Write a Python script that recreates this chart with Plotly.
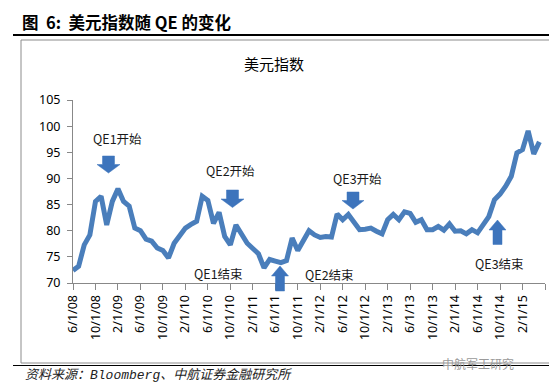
import plotly.graph_objects as go

# ---- data (monthly, 6/1/08 .. 5/1/15) ----
dxy_values = [72.4, 73.2, 77.3, 79.2, 85.6, 86.6, 81.1, 85.6, 88.0, 85.6,
              84.7, 80.5, 80.0, 78.4, 78.0, 76.7, 76.2, 74.8, 77.6, 79.2,
              80.5, 81.2, 81.8, 86.6, 85.8, 81.4, 83.5, 78.9, 77.3, 81.1,
              79.2, 77.6, 76.6, 75.6, 72.9, 74.5, 74.2, 73.9, 74.3, 78.6,
              76.2, 78.3, 80.0, 79.2, 78.7, 78.9, 78.8, 83.2, 82.1, 83.1,
              81.5, 80.2, 80.3, 80.5, 79.9, 79.4, 82.1, 83.1, 82.1, 83.6,
              83.3, 81.6, 82.1, 80.2, 80.2, 80.8, 80.1, 81.3, 79.9, 80.0,
              79.4, 80.2, 79.6, 81.1, 82.7, 85.9, 87.0, 88.5, 90.4, 94.9,
              95.5, 99.1, 94.7, 97.0]
month_index = list(range(len(dxy_values)))
x_tick_positions = list(range(0, 85, 4))
x_tick_labels = ["6/1/08", "10/1/08", "2/1/09", "6/1/09", "10/1/09", "2/1/10",
                 "6/1/10", "10/1/10", "2/1/11", "6/1/11", "10/1/11", "2/1/12",
                 "6/1/12", "10/1/12", "2/1/13", "6/1/13", "10/1/13", "2/1/14",
                 "6/1/14", "10/1/14", "2/1/15", ""]
y_ticks = [70, 75, 80, 85, 90, 95, 100, 105]

W, H = 557, 383
L, R, T, B = 65, 20, 92, 108
PW, PH = W - L - R, H - T - B
CJK = "Noto Sans CJK SC"

def px(xp):
    return (xp - L) / PW

def py(yp):
    return (H - B - yp) / PH

fig = go.Figure()
fig.add_trace(go.Scatter(
    x=month_index, y=dxy_values, mode="lines",
    line=dict(color="#4A7EBB", width=5, shape="linear"),
    hoverinfo="skip", showlegend=False,
))

shapes = []
# top rule under caption
shapes.append(dict(type="line", xref="paper", yref="paper",
                   x0=px(5), x1=px(557), y0=py(27), y1=py(27),
                   line=dict(color="#000000", width=2)))
# chart frame
shapes.append(dict(type="rect", xref="paper", yref="paper",
                   x0=px(13), x1=px(553), y0=py(32), y1=py(355),
                   line=dict(color="#8C8C8C", width=1), layer="below"))
# bottom rule
shapes.append(dict(type="line", xref="paper", yref="paper",
                   x0=px(5), x1=px(557), y0=py(357.5), y1=py(357.5),
                   line=dict(color="#000000", width=1)))


def block_arrow(cx, tip, tail, shaft_w, head_w, head_len):
    d = 1 if tail > tip else -1
    hb = tip + d * head_len
    pts = [(cx, tip), (cx + head_w / 2, hb), (cx + shaft_w / 2, hb),
           (cx + shaft_w / 2, tail), (cx - shaft_w / 2, tail),
           (cx - shaft_w / 2, hb), (cx - head_w / 2, hb)]
    path = "M " + " L ".join(f"{px(a):.5f},{py(b):.5f}" for a, b in pts) + " Z"
    return dict(type="path", xref="paper", yref="paper", path=path,
                fillcolor="#3D74BC", line=dict(color="#3D74BC", width=0.5),
                layer="above")

# down arrows (QE starts)
shapes.append(block_arrow(100.5, 165, 148, 12, 23, 8.5))
shapes.append(block_arrow(224.5, 199.5, 182, 12, 23, 8.5))
shapes.append(block_arrow(345, 201, 184, 12, 22, 8.5))
# up arrows (QE ends)
shapes.append(block_arrow(272, 258, 283, 9, 17, 10))
shapes.append(block_arrow(489.5, 212, 236.5, 9, 17, 10))

annotations = []

def text(xp, yp, s, size=12.5, color="#1A1A1A", xanchor="center", **font_kw):
    annotations.append(dict(x=px(xp), y=py(yp), xref="paper", yref="paper",
                            text=s, showarrow=False, xanchor=xanchor,
                            yanchor="middle",
                            font=dict(size=size, color=color,
                                      family=font_kw.pop("family", CJK),
                                      **font_kw)))

text(12, 13.5, "<b>图&nbsp;&nbsp;6:&nbsp;&nbsp;美元指数随&nbsp;QE&nbsp;的变化</b>",
     size=16.5, color="#000000", xanchor="left")
text(266, 55, "美元指数", size=15, color="#000000")
text(109, 130, "QE1开始")
text(222, 162, "QE2开始")
text(349, 170, "QE3开始")
text(210.5, 265.5, "QE1结束")
text(321, 266.5, "QE2结束")
text(491, 255.5, "QE3结束")
text(15, 367, "资料来源：Bloomberg、中航证券金融研究所", size=13,
     color="#222222", xanchor="left", style="italic",
     family="Liberation Mono, " + CJK)
text(470, 355, "中航军工研究", size=12, color="#9A9A9A")

fig.update_layout(
    width=W, height=H,
    margin=dict(l=L, r=R, t=T, b=B, pad=0),
    paper_bgcolor="#FFFFFF", plot_bgcolor="#FFFFFF",
    font=dict(family="Noto Sans, " + CJK, size=12.5, color="#000000"),
    shapes=shapes, annotations=annotations,
    xaxis=dict(range=[0, 84], tickmode="array", tickvals=x_tick_positions,
               ticktext=x_tick_labels, tickangle=-90, ticks="outside",
               ticklen=6, tickcolor="#888888", showline=True,
               linecolor="#888888", linewidth=1, showgrid=False,
               zeroline=False, tickfont=dict(size=12.5, color="#000000")),
    yaxis=dict(range=[70, 105], tickmode="array", tickvals=y_ticks,
               ticks="outside", ticklen=5, tickcolor="#888888",
               showline=True, linecolor="#888888", linewidth=1,
               showgrid=False, zeroline=False, ticklabelstandoff=4,
               tickfont=dict(size=12.5, color="#000000")),
)

fig.write_html("out.html")
